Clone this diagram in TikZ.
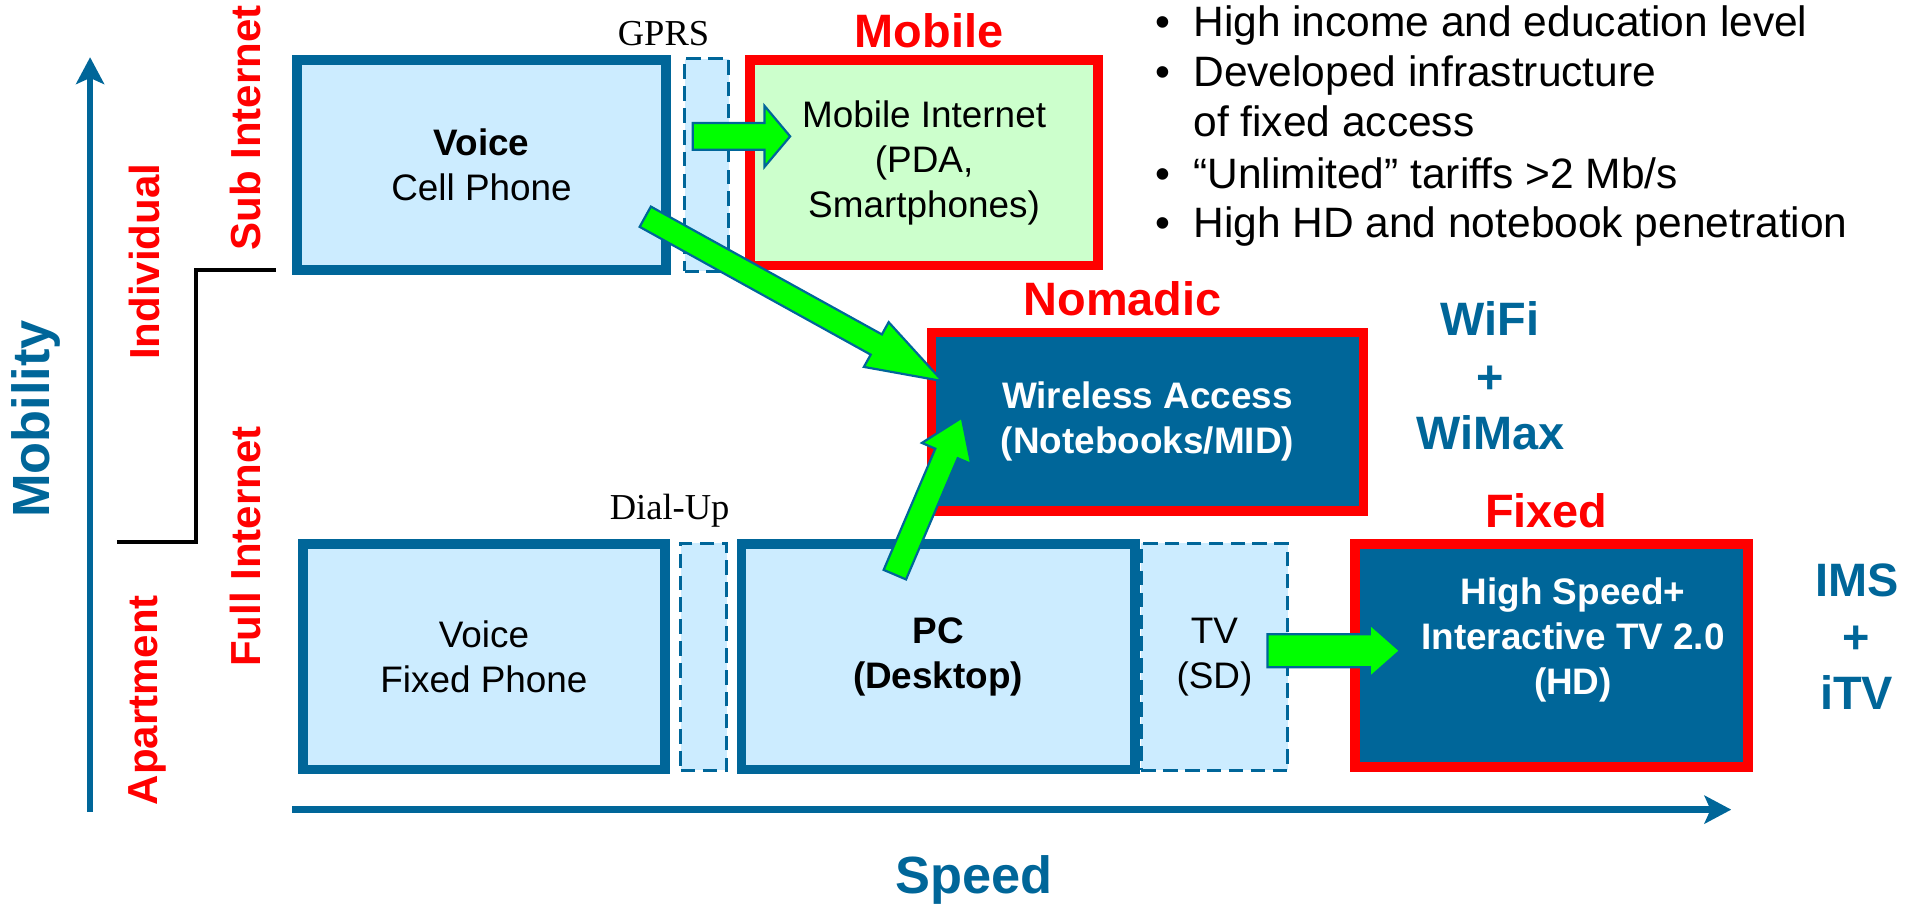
\documentclass[tikz,border=0pt]{standalone}
\usepackage{fontspec}
\setmainfont{Liberation Sans}
\newfontfamily\seriffont{Liberation Serif}
\usetikzlibrary{calc,arrows.meta}
\definecolor{dblue}{RGB}{0,102,153}
\definecolor{lblue}{RGB}{204,236,255}
\definecolor{lgreen}{RGB}{204,255,204}
\definecolor{brightgreen}{RGB}{0,255,0}
\newcommand{\blockarrow}[5]{%
  \coordinate (hb) at ($(#2)!#5!(#1)$);
  \draw[garrow] ($(#1)!#3!90:(#2)$) -- ($(hb)!#3!90:(#2)$) -- ($(hb)!#4!90:(#2)$) -- (#2)
    -- ($(hb)!#4!-90:(#2)$) -- ($(hb)!#3!-90:(#2)$) -- ($(#1)!#3!-90:(#2)$) -- cycle;
}
\begin{document}
\begin{tikzpicture}[x=1pt,y=-1pt,
  bluebox/.style={draw=dblue,line width=8pt,fill=lblue,inner sep=0pt,outer sep=0pt,align=center},
  dashbox/.style={draw=dblue,line width=2.5pt,dash pattern=on 12pt off 6pt,fill=lblue,inner sep=0pt,outer sep=0pt,align=center},
  redbox/.style={draw=red,line width=8pt,inner sep=0pt,outer sep=0pt,align=center},
  body/.style={font=\fontsize{30.3}{37}\selectfont},
  bodyb/.style={font=\bfseries\fontsize{30.3}{37}\selectfont},
  redlab/.style={text=red,font=\bfseries\fontsize{38.5}{40}\selectfont,anchor=base,inner sep=0pt},
  redrot/.style={text=red,font=\bfseries\fontsize{34.5}{36}\selectfont,anchor=base,rotate=90,inner sep=0pt},
  bluelab/.style={text=dblue,font=\bfseries\fontsize{38.5}{40}\selectfont,anchor=base,inner sep=0pt},
  axislab/.style={text=dblue,font=\bfseries\fontsize{43}{45}\selectfont,anchor=base,inner sep=0pt},
  seriflab/.style={font=\seriffont\fontsize{30}{32}\selectfont,anchor=base,inner sep=0pt},
  bullettext/.style={font=\fontsize{34.9}{40}\selectfont,inner sep=0pt},
  garrow/.style={fill=brightgreen,draw=dblue,line width=1.8pt,line join=miter},
  axisarrow/.style={draw=dblue,line width=5.5pt,-{Stealth[length=22pt,width=23pt,inset=5pt]}},
  stepline/.style={draw=black,line width=3pt,line join=miter},
]
\useasboundingbox (0,0) rectangle (1568,742);

% axes
\coordinate (mob0) at (74,667);
\coordinate (mob1) at (74,47);
\draw[axisarrow] (mob0) -- (mob1);
\coordinate (sp0) at (240,665);
\coordinate (sp1) at (1422,665);
\draw[axisarrow] (sp0) -- (sp1);
\node[axislab,rotate=90] (mobility) at (41,344) {Mobility};
\node[axislab] (speed) at (800,734) {Speed};

% step line
\coordinate (st0) at (96,445);
\coordinate (st1) at (161,445);
\coordinate (st2) at (161,222);
\coordinate (st3) at (227,222);
\draw[stepline] (st0) -- (st1) -- (st2) -- (st3);

% rotated red labels
\node[redrot] (individual) at (131,215) {Individual};
\node[redrot] (apartment) at (129,575) {Apartment};
\node[redrot] (subinet) at (214,105) {Sub Internet};
\node[redrot] (fullinet) at (214,449) {Full Internet};

% top row
\node[dashbox,minimum width=36.5pt,minimum height=174.5pt] (gprs) at (580.5,135.5) {};
\node[bluebox,body,minimum width=303pt,minimum height=173pt] (cell) at (395.5,135.5) {\textbf{Voice}\\Cell Phone};
\node[redbox,body,fill=lgreen,minimum width=286pt,minimum height=169pt] (mobile) at (759,133.5) {Mobile Internet\\(PDA,\\Smartphones)};
\node[seriflab] (gprslab) at (545,37.5) {GPRS};
\node[redlab] (mobilelab) at (763,39) {Mobile};

% nomadic
\node[redbox,bodyb,fill=dblue,text=white,minimum width=355pt,minimum height=147pt] (nomadic) at (942.5,346.5) {Wireless Access\\(Notebooks/MID)};
\node[redlab] (nomadiclab) at (922,259.5) {Nomadic};
\node[bluelab] (wifi) at (1224,275.5) {WiFi};
\node[bluelab] (plus1) at (1224,323.5) {+};
\node[bluelab] (wimax) at (1224,369.5) {WiMax};

% bottom row
\node[dashbox,minimum width=37.5pt,minimum height=186.5pt] (dialup) at (578,539.5) {};
\node[dashbox,body,minimum width=120.5pt,minimum height=186.5pt] (tv) at (997.5,539.5) {TV\\(SD)};
\node[bluebox,body,minimum width=297pt,minimum height=185pt] (fixedph) at (397.5,539.5) {Voice\\Fixed Phone};
\node[bluebox,bodyb,minimum width=323pt,minimum height=185pt] (pc) at (770.5,539.5) {PC\\(Desktop)};
\node[redbox,fill=dblue,minimum width=323pt,minimum height=183pt] (fixed) at (1274.5,538.5) {};
\node[seriflab] (diallab) at (550,427) {Dial-Up};
\node[redlab] (fixedlab) at (1270,433.5) {Fixed};
\node[bluelab] (ims) at (1525,490) {IMS};
\node[bluelab] (plus2) at (1525,537) {+};
\node[bluelab] (itv) at (1525,582.5) {iTV};

% green block arrows
\coordinate (g1a) at (569,112);
\coordinate (g1b) at (649,112);
\blockarrow{g1a}{g1b}{11pt}{25pt}{21pt}
\coordinate (g2a) at (530,178);
\coordinate (g2b) at (774,313);
\blockarrow{g2a}{g2b}{9.5pt}{21pt}{62pt}
\coordinate (g3a) at (735,472);
\coordinate (g3b) at (790,343);
\blockarrow{g3a}{g3b}{10pt}{22pt}{32pt}
\coordinate (g4a) at (1041,534.5);
\coordinate (g4b) at (1150,534.5);
\blockarrow{g4a}{g4b}{13.5pt}{22pt}{25pt}

\node[bodyb,text=white,align=center,inner sep=0pt] (fixedtxt) at (1292,526) {High Speed+\\Interactive TV 2.0\\(HD)};

% bullets
\node[bullettext,anchor=base] (b1) at (955,30) {•};
\node[bullettext,anchor=base west] (t1) at (980,30) {High income and education level};
\node[bullettext,anchor=base] (b2) at (955,71) {•};
\node[bullettext,anchor=base west] (t2) at (980,71) {Developed infrastructure};
\node[bullettext,anchor=base west] (t2b) at (980,112.5) {of fixed access};
\node[bullettext,anchor=base] (b3) at (955,154.5) {•};
\node[bullettext,anchor=base west] (t3) at (980,154.5) {“Unlimited” tariffs >2 Mb/s};
\node[bullettext,anchor=base] (b4) at (955,195) {•};
\node[bullettext,anchor=base west] (t4) at (980,195) {High HD and notebook penetration};
\end{tikzpicture}
\end{document}
